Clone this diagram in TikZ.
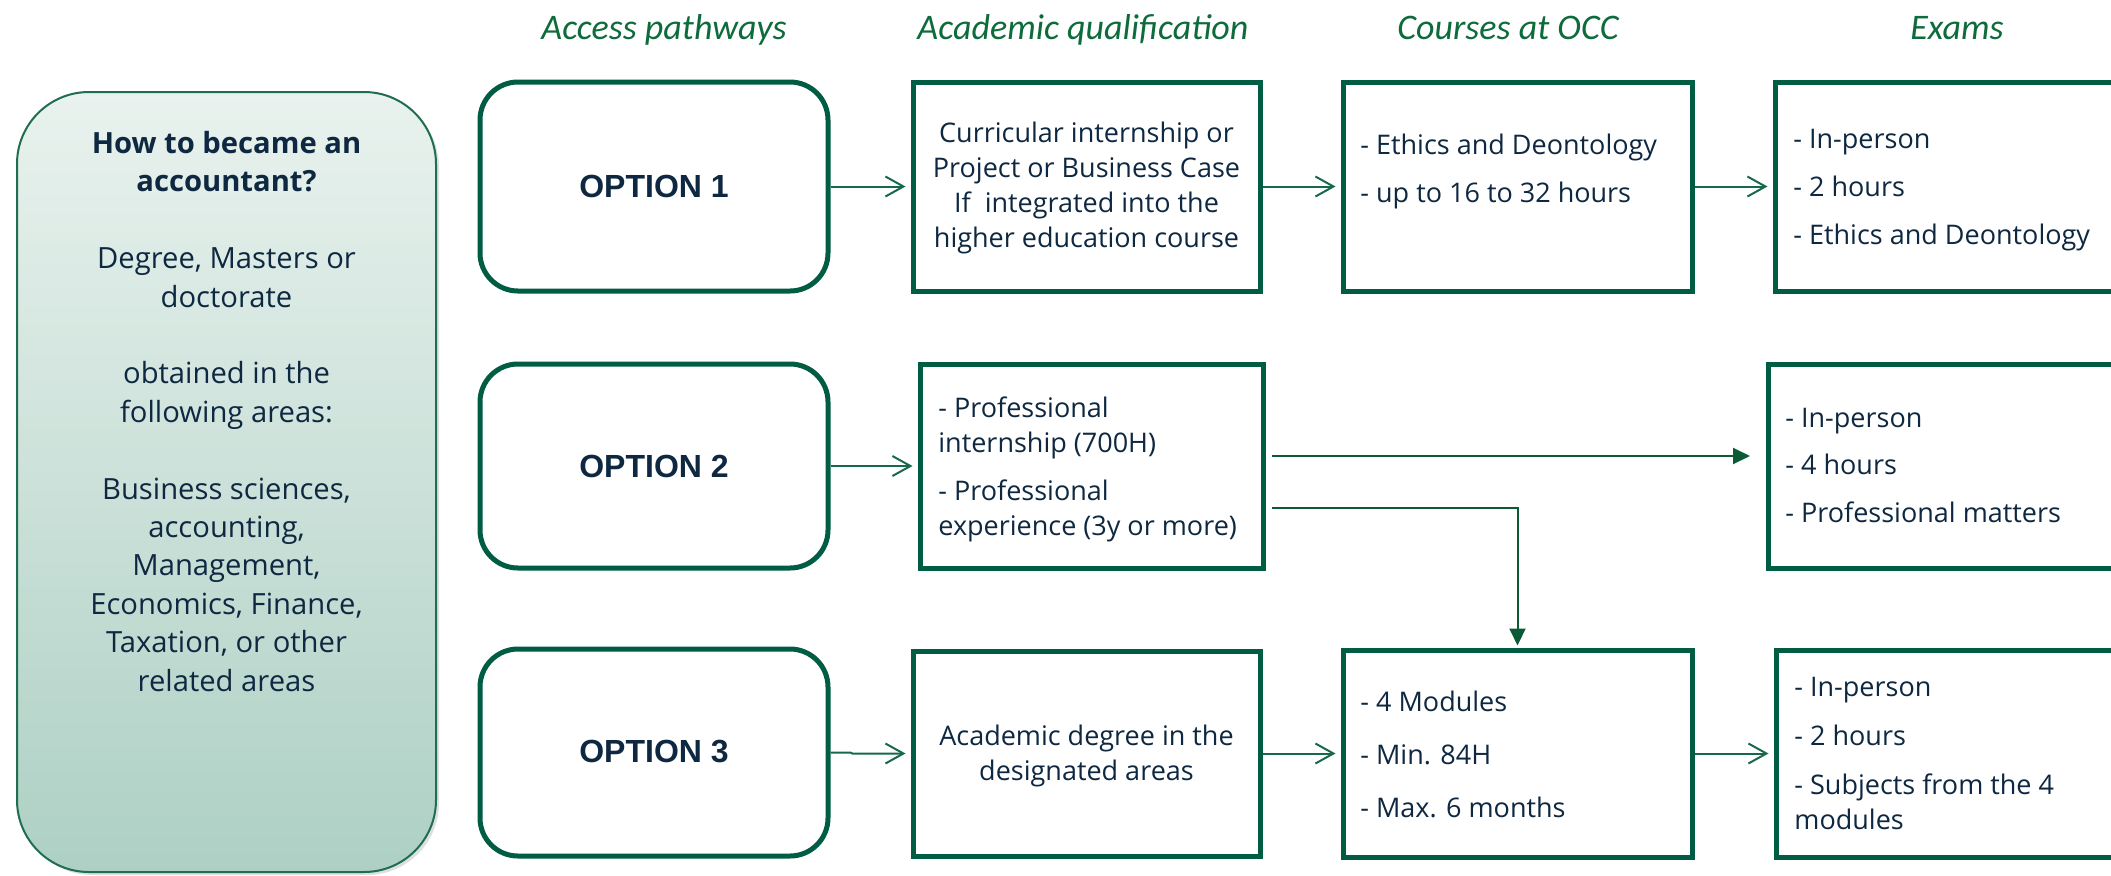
\documentclass[tikz,border=0pt]{standalone}
\usepackage{fontspec}
\setmainfont{Open Sans}
\newfontfamily\titlefont{Carlito}
\newfontfamily\optfont{Liberation Sans}
\usetikzlibrary{arrows.meta,fit,shadows}
\definecolor{boxgreen}{HTML}{005C43}
\definecolor{arrgreen}{HTML}{17694C}
\definecolor{darkarr}{HTML}{0B5A36}
\definecolor{navy}{HTML}{0E2841}
\definecolor{titlegreen}{HTML}{0E6B3B}
\definecolor{lefttop}{HTML}{E9F2EE}
\definecolor{leftbot}{HTML}{AED0C4}
\definecolor{leftborder}{HTML}{1F6E50}
\tikzset{
  optbox/.style={draw=boxgreen, line width=2.5pt, rounded corners=19pt, inner sep=0pt},
  sqbox/.style={draw=boxgreen, line width=2.5pt, inner sep=0pt},
  titletext/.style={font=\titlefont\itshape\fontsize{18pt}{22pt}\selectfont, text=titlegreen, anchor=base, inner sep=0pt},
  opttext/.style={font=\optfont\bfseries\fontsize{16pt}{19pt}\selectfont, text=navy, anchor=base, inner sep=0pt},
  bodytext/.style={font=\fontsize{13.5pt}{17.5pt}\selectfont, text=navy, inner sep=0pt},
  lefttext/.style={font=\fontsize{14.6pt}{19.2pt}\selectfont, text=navy, inner sep=0pt, align=center, anchor=base},
  conn/.style={draw=arrgreen, line width=1pt, shorten >=2.5pt, -{Straight Barb[length=9pt,width=10pt]}},
  connfill/.style={draw=darkarr, line width=1pt, -{Triangle[length=8.5pt,width=8pt]}}
}
\begin{document}
\begin{tikzpicture}[x=0.5pt,y=-0.5pt]
\useasboundingbox (0,0) rectangle (2111,875);
\fill[white] (0,0) rectangle (2111,875);
\clip (0,0) rectangle (2111,875);

% column titles
\node[titletext] (t1) at (664,39) {Access pathways};
\node[titletext] (t2) at (1083,39) {Academic qualification};
\node[titletext] (t3) at (1508,39) {Courses at OCC};
\node[titletext] (t4) at (1957,39) {Exams};

% left box
\node[fit={(17,92) (436,872)}, draw=leftborder, line width=1pt, rounded corners=36pt,
      top color=lefttop, bottom color=leftbot, inner sep=0pt,
      drop shadow={shadow xshift=1.5pt, shadow yshift=-1.5pt, opacity=0.25}] (lb) {};
% anchor=base is the baseline of the last line
\node[lefttext] (lbt) at (226.5,691) {\textbf{How to became an}\\\textbf{accountant?}\\[19.2pt]
Degree, Masters or\\doctorate\\[19.2pt]obtained in the\\following areas:\\[19.2pt]
Business sciences,\\accounting,\\Management,\\Economics, Finance,\\Taxation, or other\\related areas};

% options
\node[optbox, fit={(480,82) (828,291)}] (o1) {};
\node[optbox, fit={(480,364) (828,568)}] (o2) {};
\node[optbox, fit={(480,649) (828,856)}] (o3) {};
\node[opttext] (o1t) at (654,197) {OPTION 1};
\node[opttext] (o2t) at (654,477) {OPTION 2};
\node[opttext] (o3t) at (654,762) {OPTION 3};

% academic qualification
\node[sqbox, fit={(913,82) (1260,291)}] (q1) {};
\node[sqbox, fit={(920,364) (1263,568)}] (q2) {};
\node[sqbox, fit={(913,651) (1260,856)}] (q3) {};
\node[bodytext, align=center, anchor=base] (q1t) at (1086.5,247) {Curricular internship or\\Project or Business Case\\If\ \ integrated into the\\higher education course};
\node[bodytext, align=left, anchor=base west] (q2t) at (938,535) {- Professional\\internship (700H)\\[6.5pt]- Professional\\experience (3y or more)};
\node[bodytext, align=center, anchor=base] (q3t) at (1086.5,780) {Academic degree in the\\designated areas};

% courses
\node[sqbox, fit={(1343,82) (1692,291)}] (c1) {};
\node[sqbox, fit={(1343,650) (1692,857)}] (c3) {};
\node[bodytext, align=left, anchor=base west] (c1t) at (1360,202) {- Ethics and Deontology\\[6.5pt]- up to 16 to 32 hours};
\node[bodytext, align=left, anchor=base west] (c3t) at (1360,817) {- 4 Modules\\[9pt]- Min. 84H\\[9pt]- Max. 6 months};

% exams
\node[sqbox, fit={(1775,82) (2300,291)}] (e1) {};
\node[sqbox, fit={(1768,364) (2300,568)}] (e2) {};
\node[sqbox, fit={(1776,650) (2300,857)}] (e3) {};
\node[bodytext, align=left, anchor=base west] (e1t) at (1793,244) {- In-person\\[6.5pt]- 2 hours\\[6.5pt]- Ethics and Deontology};
\node[bodytext, align=left, anchor=base west] (e2t) at (1785,522) {- In-person\\[6.25pt]- 4 hours\\[6.25pt]- Professional matters};
\node[bodytext, align=left, anchor=base west] (e3t) at (1794,829) {- In-person\\[7pt]- 2 hours\\[7pt]- Subjects from the 4\\modules};

% connectors
\draw[conn] (o1) -- (q1);
\draw[conn] (q1) -- (c1);
\draw[conn] (c1.east) -- (c1.east -| e1.west);
\draw[conn] (o2) -- (q2);
\draw[conn] (o3.east) -- ++(20,0) -- ++(2,1) -- (q3.west);
\draw[conn] (q3.east) -- (q3.east -| c3.west);
\draw[conn] (c3.east) -- (c3.east -| e3.west);

\coordinate (s1) at (1272,456);
\coordinate (s2) at (1272,508);
\draw[connfill] (s1) -- ([xshift=-7.75pt]s1 -| e2.west);
\draw[connfill, shorten >=1pt] (s2) -| (c3.north);
\end{tikzpicture}
\end{document}
